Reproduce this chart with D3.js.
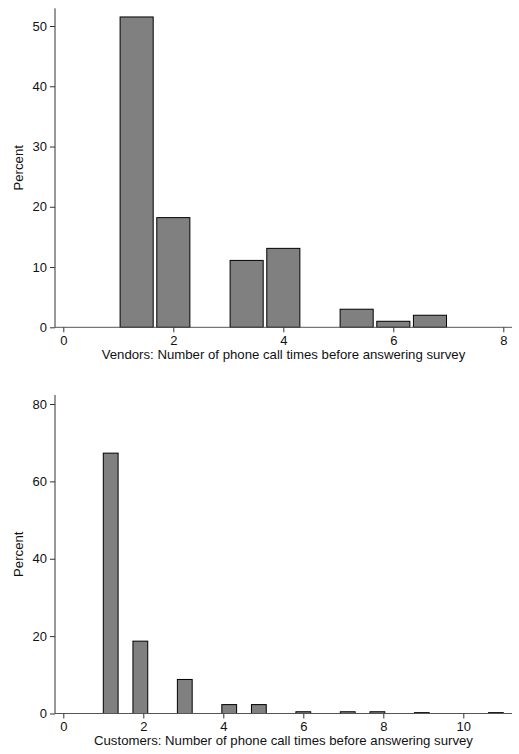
<!DOCTYPE html>
<html>
<head>
<meta charset="utf-8">
<script src="https://cdn.jsdelivr.net/npm/d3@7"></script>
<style>
  html, body { margin: 0; padding: 0; background: #fff; }
  svg { display: block; }
  text { font-family: "Liberation Sans", Arial, Helvetica, sans-serif; fill: #111; }
</style>
</head>
<body>
<svg id="chart" width="519" height="754"></svg>
<script>
// Vendors: histogram bins (start of each non-empty bin) and percent of respondents
const vendorBinStart = [1.000, 1.667, 3.000, 3.667, 5.000, 5.667, 6.333];
const vendorBinWidth = 0.667;
const vendorPercent = [51.5, 18.2, 11.1, 13.1, 3.0, 1.0, 2.0];
const vendorXTicks = [0, 2, 4, 6, 8];
const vendorYTicks = [0, 10, 20, 30, 40, 50];

// Customers: histogram bins (start of each non-empty bin) and percent of respondents
const customerBinStart = [1.000, 1.741, 2.852, 3.963, 4.704, 5.815, 6.926, 7.667, 8.778, 10.630];
const customerBinWidth = 0.370;
const customerPercent = [67.3, 18.7, 8.8, 2.3, 2.3, 0.45, 0.45, 0.45, 0.22, 0.22];
const customerXTicks = [0, 2, 4, 6, 8, 10];
const customerYTicks = [0, 20, 40, 60, 80];

const svg = d3.select("#chart");

function histogram(cfg) {
  const g = svg.append("g");
  const x = d3.scaleLinear().domain(cfg.xDomain).range([63.3, cfg.xRangeEnd]);
  const y = d3.scaleLinear().domain(cfg.yDomain).range([cfg.bottom, cfg.yTopTick]);
  const left = 55, right = 512;

  // bars
  const bars = cfg.starts.map((s, i) => ({ lo: s, hi: s + cfg.width, v: cfg.values[i] }));
  g.selectAll("rect.bar").data(bars).join("rect")
    .attr("class", "bar")
    .attr("x", d => x(d.lo) + cfg.inset)
    .attr("width", d => x(d.hi) - x(d.lo) - 2 * cfg.inset)
    .attr("y", d => y(d.v))
    .attr("height", d => y(0) - y(d.v))
    .attr("fill", "#808080")
    .attr("stroke", "#000")
    .attr("stroke-width", 1);

  // x axis
  g.append("line")
    .attr("x1", left).attr("x2", right)
    .attr("y1", cfg.bottom).attr("y2", cfg.bottom)
    .attr("stroke", "#555").attr("stroke-width", 1);
  const xa = g.append("g").attr("transform", `translate(0,${cfg.bottom})`)
    .call(d3.axisBottom(x).tickValues(cfg.xTicks).tickSize(5).tickPadding(3));
  xa.select(".domain").remove();
  xa.selectAll(".tick line").attr("stroke", "#333");
  xa.selectAll(".tick text").attr("font-size", 13).attr("fill", "#111")
    .attr("font-family", "Liberation Sans, Arial, sans-serif");

  // y axis
  g.append("line")
    .attr("x1", left).attr("x2", left)
    .attr("y1", cfg.axisTop).attr("y2", cfg.bottom)
    .attr("stroke", "#333").attr("stroke-width", 1);
  const ya = g.append("g").attr("transform", `translate(${left},0)`)
    .call(d3.axisLeft(y).tickValues(cfg.yTicks).tickSize(5).tickPadding(3));
  ya.select(".domain").remove();
  ya.selectAll(".tick line").attr("stroke", "#333");
  ya.selectAll(".tick text").attr("font-size", 13).attr("fill", "#111")
    .attr("font-family", "Liberation Sans, Arial, sans-serif");

  // titles
  g.append("text")
    .attr("x", (left + right) / 2).attr("y", cfg.bottom + 31.5)
    .attr("text-anchor", "middle").attr("font-size", 13.2)
    .text(cfg.xTitle);
  g.append("text")
    .attr("transform", `translate(22.5,${(cfg.axisTop + cfg.bottom) / 2}) rotate(-90)`)
    .attr("text-anchor", "middle").attr("font-size", 13.2)
    .text("Percent");
}

histogram({
  starts: vendorBinStart, width: vendorBinWidth, values: vendorPercent,
  xDomain: [0, 8], xRangeEnd: 503.3, xTicks: vendorXTicks,
  yDomain: [0, 50], yTopTick: 26, yTicks: vendorYTicks,
  bottom: 327.3, axisTop: 8.3, inset: 1.8,
  xTitle: "Vendors: Number of phone call times before answering survey"
});

histogram({
  starts: customerBinStart, width: customerBinWidth, values: customerPercent,
  xDomain: [0, 10], xRangeEnd: 463.3, xTicks: customerXTicks,
  yDomain: [0, 80], yTopTick: 404, yTicks: customerYTicks,
  bottom: 713.5, axisTop: 395, inset: 0,
  xTitle: "Customers: Number of phone call times before answering survey"
});
</script>
</body>
</html>
